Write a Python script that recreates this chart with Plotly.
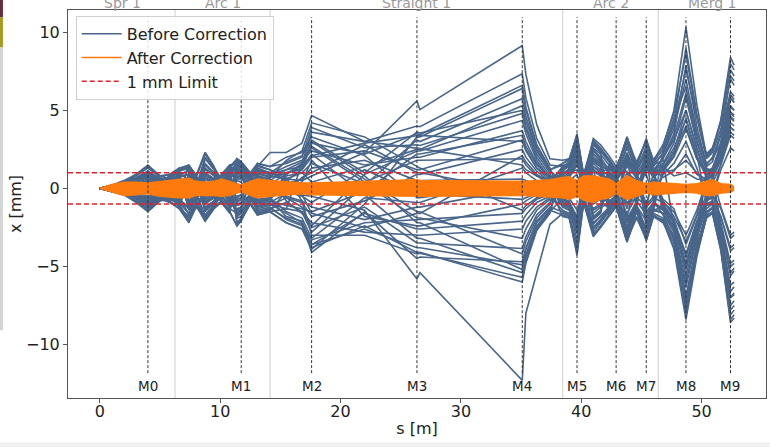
import plotly.graph_objects as go

# ---------------- data ----------------
# s positions [m] of the sampled points
S_ARC1 = [0.0, 1.0, 2.0, 3.0, 4.0, 5.0, 5.8, 6.6, 7.4, 8.0, 8.75, 9.5, 10.1, 10.8,
          11.4, 11.75, 12.5, 13.1, 14.15, 15.5, 16.8, 17.6]
S_STRAIGHT = [22.0, 26.35, 26.6, 35.1]
S_ARC2 = [35.4, 36.3, 37.4, 38.45, 39.0, 39.65, 40.2, 41.0, 41.6, 42.3, 42.9, 43.8,
          44.6, 45.4, 46.0, 46.8, 47.7, 48.7, 49.6, 50.4, 50.9, 51.6, 52.4, 52.7]

# x [mm] before correction, one row per trajectory, split by lattice section
BEFORE_ARC1 = [
    [0, 0.2, 0.5, 0.9, 1.5, 0.8, 0.6, 1.2, 1.3, 0.7, 2.2, 1.3, 0.4, 1.0, 1.7, 1.5, 0.6, 1.4, 2.3, 2.3, 2.9, 4.67],
    [0, -0.1, -0.3, -0.5, -0.9, -0.5, -0.4, -0.7, -1.3, -0.6, 1.2, 0.8, 0.3, -0.6, -1.1, -1.0, 0.3, 0.9, 0.8, 0.6, 0.5, 0.8],
    [0, 0.1, 0.2, 0.4, 0.7, 0.4, 0.3, 0.5, -0.9, -0.5, 0.9, 0.6, -0.3, -0.8, -1.4, -1.2, -0.4, 0.7, 0.4, -0.3, -0.4, -0.5],
    [0, 0.2, 0.4, 0.8, 1.3, 0.7, 0.9, 1.1, 1.4, 0.9, -1.5, -0.9, -0.6, 1.3, 1.8, 1.6, 0.9, -1.2, -1.0, -1.3, 1.6, 3.6],
    [0, -0.2, -0.4, -0.8, -1.4, -0.8, -0.7, -1.0, -2.1, -1.1, -0.5, 0.3, 0.7, 1.2, -1.9, -1.8, -0.8, 1.3, 1.0, 0.5, 1.2, 2.9],
    [0, 0.1, 0.3, 0.6, 1.0, 0.6, 0.5, -0.4, 1.5, 0.8, 2.3, 1.4, 0.6, -1.2, -0.6, -0.4, -1.0, -1.7, -1.5, -2.2, -2.6, -3.9],
    [0, -0.1, -0.2, -0.4, -0.7, -0.4, -0.9, -1.3, -1.8, -0.9, -2.1, -1.2, -0.9, -1.6, 1.9, 1.7, 1.0, -1.7, -1.3, -0.9, -1.5, -2.8],
    [0, 0.2, 0.4, 0.6, 0.9, 0.5, 0.3, 0.8, 1.2, 0.6, -1.2, -0.8, 0.3, 1.4, 1.2, 1.0, 0.5, 1.6, 1.4, 1.6, 2.0, 3.9],
    [0, -0.2, -0.3, -0.6, -1.1, -0.6, -0.5, 0.9, -0.8, -0.3, 1.6, 1.0, 0.2, 0.9, -2.2, -1.9, -0.9, 0.8, 0.6, -0.8, -1.6, -2.4],
    [0, 0.1, 0.2, 0.3, 0.5, 0.3, 0.8, 1.0, -1.4, -0.8, -1.9, -1.1, -0.5, 0.6, 1.1, 1.0, 0.7, 1.1, 0.9, 1.4, 1.8, 2.4],
    [0, -0.1, -0.3, -0.7, -1.2, -0.7, -0.6, -0.8, 0.7, 0.4, 0.9, 0.5, -0.4, -1.1, -0.9, -0.7, 0.6, 1.0, 0.7, 1.0, 1.2, 2.0],
    [0, 0.1, 0.3, 0.5, 0.8, 0.4, 0.2, -0.9, -1.6, -0.7, 0.6, 0.3, 0.8, 1.1, 0.5, 0.4, -0.6, -1.3, -1.1, -0.6, -0.9, -1.8],
    [0, -0.1, -0.2, -0.3, -0.5, -0.3, 0.4, 0.7, 0.9, 0.5, -0.9, -0.6, -0.4, -1.3, -1.6, -1.4, -0.7, 0.5, 0.3, 0.9, 1.5, 2.6],
    [0, 0.2, 0.4, 0.7, 1.1, 0.6, -0.3, -0.6, 0.5, 0.2, 1.3, 0.8, -0.2, -0.9, 0.8, 0.7, 0.4, -0.8, -0.6, -1.5, -1.9, -3.2],
    [0, -0.1, -0.2, -0.5, -0.8, -0.4, 0.3, 0.5, -0.5, -0.3, -1.7, -1.0, -0.3, 0.4, 0.3, 0.2, -0.3, -0.9, -0.7, 0.3, 0.6, 1.3],
    [0, 0.1, 0.2, 0.4, 0.6, 0.3, -0.5, -1.1, -1.9, -1.0, -0.5, -0.2, 0.5, 0.9, 1.5, 1.4, 0.8, 0.4, 0.2, -0.5, -0.8, -1.2],
    [0, -0.2, -0.3, -0.6, -1.0, -0.6, 0.6, 0.9, 1.1, 0.6, 0.7, 0.4, -0.6, -1.0, -0.7, -0.6, 0.4, 0.8, 0.6, -0.2, -0.5, -0.9],
    [0, 0.1, 0.2, 0.2, 0.4, 0.2, 0.6, -0.7, -1.2, -0.5, 1.9, 1.2, 0.4, -0.5, -1.8, -1.6, -0.6, 1.0, 0.7, 1.8, 2.4, 4.2],
    [0, -0.1, -0.3, -0.4, -0.6, -0.3, -0.7, 1.3, 1.4, 0.7, -1.3, -0.8, -0.7, 1.0, 1.3, 1.1, 0.5, -0.9, -0.7, -1.8, -2.1, -3.6],
    [0, 0.2, 0.3, 0.5, 0.9, 0.5, 0.6, 0.7, -0.8, -0.4, -2.0, -1.2, -0.8, -1.5, -2.4, -2.0, -1.0, -1.7, -1.5, -1.3, -1.5, -2.2],
    [0, -0.2, -0.4, -0.9, -1.5, -0.8, -0.4, -1.2, 1.0, 0.5, 0.3, 0.2, 0.9, 1.5, 1.6, 1.5, 0.8, 1.5, 1.2, 0.8, 1.0, 1.6],
    [0, 0.1, 0.2, 0.3, 0.3, 0.1, -0.5, 0.8, 0.9, 0.4, 0.8, 0.5, -0.5, 1.2, 1.4, 1.2, 0.6, 0.4, 0.3, -0.6, -1.2, -2.5],
    [0, -0.1, -0.2, -0.4, -0.7, -0.4, -0.6, -0.9, -1.6, -0.8, 1.0, 0.6, 0.6, -1.0, -1.3, -1.2, -0.5, -1.2, -1.0, -1.6, -2.2, -4.1],
    [0, 0.2, 0.3, 0.6, 1.0, 0.6, 0.7, 1.0, 0.5, 0.2, -1.3, -0.8, -0.2, 0.7, 0.9, 0.8, -0.6, -1.4, -1.2, -2.0, -2.4, -3.6],
    [0, -0.1, -0.2, -0.6, -1.0, -0.6, 0.5, 0.3, -1.0, -0.6, -1.0, -0.6, 0.5, 1.3, 1.0, 0.9, 0.5, 0.7, 0.5, 1.2, 1.7, 3.0],
    [0, 0.1, 0.2, 0.5, 0.7, 0.4, 0.8, 1.3, 1.5, 0.8, -0.6, -0.4, -0.8, -1.4, 0.6, 0.6, 0.3, -0.7, -0.6, 1.0, 1.3, 2.2],
    [0, -0.2, -0.4, -0.8, -1.3, -0.7, -0.9, -1.1, 0.3, 0.1, 2.0, 1.2, 0.4, -0.4, 1.5, 1.3, 0.7, 1.2, 1.0, 0.7, -0.8, -3.0],
    [0, 0.1, 0.3, 0.5, 0.8, 0.4, -0.8, -1.3, -2.2, -1.2, -1.8, -1.1, 0.7, 1.5, -2.3, -2.0, -1.0, -1.6, -1.5, -2.2, -2.6, -3.8],
    [0, -0.1, -0.3, -0.5, -0.9, -0.5, 0.9, 1.3, 1.2, 0.7, 2.3, 1.4, -0.5, 1.4, 1.9, 1.7, 1.0, 1.6, 1.4, 2.0, 2.3, 3.3],
    [0, 0.2, 0.4, 0.9, 1.4, 0.8, 0.9, -1.2, -2.1, -1.1, -2.1, -1.3, -0.9, -1.5, -2.4, -2.1, -0.9, -1.6, -1.4, -0.2, 0.7, 1.0],
    [0, 0.1, 0.3, 0.6, 1.1, 0.6, -0.6, -1.0, 0.8, 0.4, -1.4, -0.9, 0.5, 1.1, -1.0, -0.9, -0.4, 1.2, 1.0, 1.7, 2.1, 3.1],
    [0, -0.2, -0.4, -0.6, -1.0, -0.5, 0.7, -0.5, -1.7, -0.9, 0.6, 0.4, -0.7, -1.2, 1.0, 0.9, -0.5, -1.5, -1.3, -1.9, -2.3, -3.3],
    [0, 0.1, 0.2, 0.3, 0.5, 0.3, -0.3, 0.6, -0.6, -0.3, 1.5, 0.9, 0.5, -0.7, -1.5, -1.3, 0.5, 1.1, 0.9, 1.2, 1.4, 2.1],
    [0, -0.1, -0.2, -0.5, -0.8, -0.5, 0.5, 0.8, -1.3, -0.7, -0.9, -0.5, 0.4, 0.8, 1.2, 1.1, -0.5, -1.0, -0.8, -1.1, -1.3, -1.5],
    [0, 0.2, 0.3, 0.6, 0.9, 0.5, -0.4, -0.9, 1.0, 0.5, -0.7, -0.4, -0.6, 0.8, -1.7, -1.5, -0.8, -1.1, -0.9, -0.3, 0.4, 1.8],
    [0, -0.1, -0.3, -0.4, -0.6, -0.4, -0.6, 1.1, 1.3, 0.7, 0.4, 0.3, 0.8, -1.3, -0.5, -0.4, 0.9, 1.4, 1.2, 0.4, -0.4, -1.6],
    [0, 0.1, 0.2, 0.5, 0.8, 0.4, 0.4, -0.8, 0.7, 0.3, 1.0, 0.6, -0.4, 1.0, 0.7, 0.6, 0.7, -0.9, -0.7, 0.9, 1.6, 2.7],
    [0, -0.2, -0.3, -0.6, -1.1, -0.6, -0.8, 0.5, -1.1, -0.6, -0.8, -0.5, -0.7, 1.0, -0.8, -0.7, -0.6, -0.8, -0.7, 0.6, 1.0, 0.4],
]
BEFORE_STRAIGHT = [
    [3.0, 2.6, 2.55, 1.5], [2.3, 5.6, 5.05, 9.15], [-1.4, -5.8, -5.4, -12.3], [3.0, 4.0, 3.95, 7.34],
    [2.2, 3.5, 3.45, 6.6], [-1.0, 3.3, 3.3, 6.4], [0.2, 3.1, 3.0, 5.75], [2.6, 2.8, 2.75, 4.8],
    [0.9, 2.4, 2.4, 4.35], [1.5, 2.0, 2.0, 3.7], [2.4, 1.2, 1.2, 3.1], [-0.8, 0.9, 0.9, 2.5],
    [0.4, 1.8, 1.8, 1.9], [-0.6, -0.9, -0.9, 1.3], [1.8, 0.5, 0.5, 0.6], [-2.0, -1.2, -1.2, 0.0],
    [1.2, -0.3, -0.35, -0.7], [3.3, 1.4, 1.3, -1.4], [-1.6, -2.6, -2.6, -2.1], [-2.8, -3.0, -3.0, -2.6],
    [0.3, -1.9, -1.9, -3.2], [-1.2, -3.5, -3.5, -3.85], [-1.5, -4.5, -4.4, -4.7], [-2.6, -3.8, -3.8, -4.9],
    [0.8, -2.2, -2.2, -5.2], [-0.4, -3.2, -3.2, -5.4], [-3.0, -4.2, -4.15, -5.7], [-2.4, -4.1, -4.1, -6.0],
    [2.1, -0.6, -0.6, 0.3], [2.8, 1.0, 1.0, -0.2],
    [1.0, 3.6, 3.55, 5.0], [-2.2, -2.0, -2.0, -1.6], [2.9, 3.4, 3.4, 3.0], [-0.2, 2.2, 2.2, 3.4],
    [-1.8, -2.4, -2.4, -1.0], [-2.5, -1.6, -1.6, 2.1], [0.6, -1.5, -1.5, -4.2], [1.4, 2.5, 2.5, 5.3],
]
BEFORE_ARC2 = [
    [1.2, 0.8, 0.5, 0.9, 1.2, 2.4, 0.5, 2.2, 1.8, 1.1, 0.6, 2.1, 0.9, 2.0, 1.0, 2.0, 3.5, 7.9, 4.0, 1.5, 2.0, 3.5, 6.2, 5.9],
    [7.3, 4.1, 1.9, 1.8, 1.9, 3.4, 0.9, 3.1, 2.6, 1.9, 1.2, 3.2, 1.5, 3.1, 1.8, 2.7, 5.0, 10.33, 5.4, 2.1, 2.5, 4.4, 8.4, 7.9],
    [-8.0, -5.4, -2.3, -1.6, -1.8, -4.3, -0.9, -3.0, -2.4, -1.7, -1.1, -3.4, -1.8, -3.3, -1.7, -2.1, -3.9, -8.4, -4.4, -1.8, -1.6, -3.9, -8.6, -8.3],
    [5.8, 3.2, 1.5, 1.4, 1.6, 2.9, 0.7, 2.6, 2.2, 1.5, 0.9, 2.6, 1.2, 2.7, 1.4, 2.3, 4.1, 7.6, 4.6, 1.9, 2.3, 3.8, 7.0, 6.6],
    [5.2, 2.8, 1.3, -0.6, -1.0, -2.6, 0.4, 2.8, 2.3, -1.2, -0.6, -2.8, -1.0, 2.9, 1.5, 1.8, -2.5, -6.9, -3.6, 1.3, 1.1, -3.2, -7.5, -7.2],
    [5.0, 2.7, 1.2, 1.5, 1.3, 3.1, 0.6, -1.8, -1.4, 1.6, 1.0, 3.0, 1.3, -2.2, -1.2, 2.5, 4.5, 6.5, 3.4, 1.6, 1.9, 2.9, 5.8, 5.5],
    [4.6, 2.5, 1.1, 0.5, -0.8, -2.0, 0.6, 2.2, 1.7, -0.9, -0.7, -2.5, -1.2, 1.9, -0.8, -1.7, -3.2, -7.6, -3.9, -1.5, -1.2, -2.9, -6.6, -6.3],
    [3.8, 2.0, 0.8, 0.3, 0.7, 1.6, 0.3, 1.3, -0.8, -1.3, -0.8, 1.8, 0.6, -1.4, 1.1, 2.0, 3.1, 5.0, 2.6, 0.9, 1.3, 2.8, 5.3, 5.0],
    [3.5, 1.8, 0.6, -0.9, -1.2, -3.3, -0.5, -2.5, -2.0, -1.3, -0.4, -2.2, -1.1, -2.6, -1.5, -1.0, -2.0, -5.2, -2.6, -1.1, -0.9, -2.5, -5.4, -5.1],
    [3.0, 1.6, 0.7, 1.1, 1.5, 2.8, 0.4, 1.6, 1.2, 0.8, 0.5, 1.4, 0.7, 1.6, 0.8, 1.5, 2.6, 4.4, 2.1, 0.8, 1.0, 2.0, 4.2, 4.0],
    [2.5, 1.3, 0.5, -0.5, -0.9, -1.8, 0.8, -1.9, -1.6, 0.7, 0.6, 2.3, 0.8, -1.0, 0.6, -0.7, -1.3, -3.6, -1.8, -0.5, 0.4, 1.5, 3.4, 3.2],
    [2.0, 1.1, 0.4, 0.6, 0.9, 1.9, -0.6, 1.1, 0.8, -0.4, -0.3, -1.6, -0.5, 1.2, 1.0, 1.4, 0.8, 1.0, 0.6, 0.5, 0.8, -1.2, -3.0, -2.8],
    [1.5, 0.8, 0.3, -0.4, -0.6, -1.4, -0.3, -1.3, -1.0, -0.6, -0.4, -1.0, -0.6, -1.1, -0.5, 0.9, 1.6, 3.0, 1.3, -0.6, -0.5, 1.2, 2.6, 2.4],
    [1.0, 0.5, 0.2, 1.0, 1.2, 2.2, 0.5, -1.0, -0.7, 1.3, 0.8, 1.1, -0.8, -1.7, -0.9, -1.3, -2.1, -4.4, -2.2, -0.7, 0.6, 1.8, 3.9, 3.7],
    [0.5, 0.2, 0.1, -1.2, -1.4, -2.9, -0.7, 1.9, 1.5, -1.0, -0.7, 1.5, 1.1, 2.4, 1.3, 0.7, 1.1, 2.2, 0.9, 0.6, -0.8, -1.8, -3.8, -3.6],
    [0.0, -0.1, 0.2, 0.7, 1.0, 1.2, 0.6, 0.7, 0.5, 0.9, -0.6, -1.8, 0.5, 0.9, -0.6, -0.9, -1.5, -3.0, -1.4, 0.4, 0.6, -2.2, -4.8, -4.6],
    [-0.6, -0.3, -0.1, 0.4, 0.5, 0.9, -0.4, 1.4, 1.0, 0.5, 0.4, -0.9, -0.4, 1.3, 0.7, 1.2, 2.3, 4.0, 1.9, 1.1, 1.3, 2.5, 4.8, 4.6],
    [-1.1, -0.6, -0.3, 0.8, 1.3, 2.6, 0.7, -2.0, -1.6, 1.0, 0.6, 2.7, 1.0, -2.4, -1.3, -1.6, -2.8, -6.3, -3.2, -1.3, -1.0, -3.3, -7.0, -6.8],
    [-1.7, -0.9, -0.5, -1.4, -1.6, -3.8, -0.8, -2.8, -2.2, -1.5, -1.0, -3.0, -1.4, -3.0, -1.6, -1.9, -3.0, -7.0, -3.6, -1.6, -1.3, -3.5, -7.8, -7.5],
    [-2.1, -1.2, -0.6, 0.5, 0.7, 1.5, 0.9, 2.5, 2.0, 1.2, 1.0, -2.0, -1.0, 2.2, 1.1, 1.6, 2.9, 5.8, 2.9, 1.2, 1.0, 2.6, 5.8, 5.5],
    [-2.6, -1.4, -0.7, -1.0, -1.2, -2.4, 0.5, -1.6, -1.2, -1.0, -0.6, 1.0, 0.5, -1.5, -0.9, 1.0, 1.2, 1.8, 1.0, 0.5, -0.4, -1.3, -3.2, -3.0],
    [-3.1, -1.7, -0.9, 1.3, 1.5, 3.0, 0.3, 1.7, 1.4, -0.9, -0.5, -2.6, -0.9, 2.5, 1.2, -1.1, -2.2, -5.6, -2.8, -0.9, 0.8, 2.1, 4.5, 4.3],
    [-3.8, -2.1, -1.2, -1.5, -1.7, -3.9, -0.7, -2.3, -1.8, -1.2, -0.8, -3.1, -1.3, -2.8, -1.4, -1.6, -2.6, -6.0, -3.0, -1.1, -1.0, -2.9, -6.2, -6.0],
    [-3.9, -2.2, -1.3, 0.4, 0.8, 1.8, -0.4, 0.8, 0.6, 0.6, 0.5, 1.6, 0.9, 1.4, 0.8, 1.3, 2.4, 5.0, 2.5, 0.7, 0.9, 3.0, 6.0, 5.7],
    [-4.2, -2.4, -1.4, -1.7, -1.9, -3.5, -0.9, -2.6, -2.1, -1.4, -0.9, -2.4, -1.1, -2.1, -1.0, -1.3, -2.2, -4.8, -2.4, -0.8, -0.5, -1.8, -4.0, -3.8],
    [-4.4, -2.5, -1.5, 1.1, 1.6, 3.3, 0.8, 2.9, 2.4, 1.7, 1.1, 3.3, 1.4, 3.2, 1.6, 2.2, 3.8, 7.0, 3.6, 1.4, 1.7, 3.4, 7.2, 6.9],
    [-4.6, -2.6, -1.5, -0.6, -0.9, -2.1, -0.9, 1.4, 1.1, -1.6, -1.2, 1.9, -1.2, -3.3, -1.8, -2.2, -3.5, -8.0, -4.1, -1.9, -1.5, -3.8, -8.1, -7.8],
    [-4.8, -2.7, -1.6, 1.6, 1.9, 2.6, 0.9, -2.9, -2.5, -1.8, -1.2, -3.45, -1.5, -3.35, -1.8, -2.0, -3.3, -7.2, -3.8, -1.7, -1.5, -3.0, -7.0, -6.7],
    [0.3, 0.2, 0.2, -0.8, -1.0, -2.0, 0.5, 3.2, 2.8, 2.1, 1.4, 2.9, 1.7, 3.0, 1.8, 2.8, 4.8, 8.6, 4.6, 2.2, 2.6, 4.2, 7.6, 7.2],
    [-0.1, 0.0, 0.1, -1.8, -1.9, -4.1, -0.9, -3.1, -2.5, -1.7, -1.1, -3.2, -1.9, -3.2, -1.7, -2.1, -3.8, -7.8, -4.2, -1.9, -1.6, -4.0, -8.4, -8.1],
    [4.0, 2.2, 1.0, -1.1, -1.3, -2.8, 0.7, 2.0, 1.6, 1.0, 0.7, -1.9, -0.9, 2.0, 1.0, -1.4, -2.4, -4.8, -2.5, 0.9, 1.1, 2.3, 4.6, 4.4],
    [-1.3, -0.7, -0.4, 1.2, 1.4, 2.9, -0.6, 2.4, 1.9, -1.1, -0.8, 2.2, 1.1, 2.3, 1.2, 1.9, 3.3, 6.1, 3.1, 1.2, 0.9, -2.6, -5.6, -5.3],
    [2.4, 1.3, 0.7, 0.9, 1.1, 2.0, 0.4, -1.4, -1.1, 0.9, 0.6, 1.9, 0.8, -1.2, -0.7, 1.1, 2.0, 3.8, 1.9, 0.8, 1.2, 2.4, 4.9, 4.7],
    [2.7, 1.5, 0.7, -0.7, -0.9, -2.2, 0.6, 1.8, 1.4, -0.8, -0.5, -2.1, -0.8, 1.7, 0.9, -1.2, -2.0, -4.2, -2.1, -0.8, -0.6, 1.6, 3.6, 3.4],
    [-0.8, -0.4, -0.2, -0.9, -1.1, -2.3, 0.6, -1.9, -1.5, 1.1, 0.7, 2.0, 1.0, -1.9, -1.0, -1.4, -2.5, -5.0, -2.5, -1.0, 0.7, 2.7, 5.2, 5.0],
    [1.7, 0.9, 0.4, 1.4, 1.7, 3.2, -0.5, -2.2, -1.8, -1.4, -0.9, -2.8, -1.2, -2.6, -1.4, 1.2, 2.1, 4.5, 2.2, -1.0, -0.8, -2.4, -5.0, -4.8],
    [-3.4, -1.9, -1.0, 0.9, 1.1, 2.5, -0.6, 1.2, 0.9, 1.4, 0.9, -1.3, 0.7, 1.8, 0.9, -0.8, -1.8, -3.4, -1.7, 0.6, 0.9, 1.9, 3.9, 3.7],
    [4.3, 2.4, 1.2, 1.6, 1.8, 3.5, 0.8, 3.0, 2.5, 1.8, 1.2, 3.3, 1.6, 3.1, 1.7, 2.5, 4.2, 9.0, 4.8, 2.0, 2.4, 4.3, 8.0, 7.6],
]

# envelope of the trajectories after correction [mm]
AFTER_UPPER = [0, 0.25, 0.4, 0.4, 0.35, 0.45, 0.5, 0.6, 0.65, 0.45, 0.4, 0.45, 0.6, 0.45, 0.3, 0.2,
               0.45, 0.6, 0.5, 0.4, 0.35, 0.35,
               0.45, 0.55, 0.5, 0.45,
               0.45, 0.5, 0.55, 0.7, 0.75, 0.5, 0.8, 0.8, 0.7, 0.6, 0.3, 0.8, 0.5, 0.3, 0.4, 0.35,
               0.3, 0.25, 0.3, 0.45, 0.55, 0.3, 0.25, 0.1]
AFTER_LOWER = [0, -0.25, -0.45, -0.4, -0.35, -0.5, -0.55, -0.6, -0.6, -0.45, -0.45, -0.45, -0.5, -0.45,
               -0.3, -0.2, -0.45, -0.6, -0.5, -0.4, -0.35, -0.4,
               -0.45, -0.5, -0.5, -0.45,
               -0.45, -0.5, -0.55, -0.6, -0.7, -0.5, -0.75, -0.9, -0.7, -0.6, -0.3, -0.7, -0.5, -0.3,
               -0.4, -0.35, -0.3, -0.25, -0.3, -0.45, -0.45, -0.3, -0.25, -0.1]

LIMIT_MM = [1.0, -1.0]
MONITOR_NAMES = ["M0", "M1", "M2", "M3", "M4", "M5", "M6", "M7", "M8", "M9"]
MONITOR_S = [4.0, 11.75, 17.6, 26.35, 35.1, 39.65, 42.9, 45.4, 48.7, 52.4]
SECTION_NAMES = ["Spr 1", "Arc 1", "Straight 1", "Arc 2", "Merg 1"]
SECTION_LABEL_S = [1.9, 10.2, 26.3, 42.45, 50.9]
SECTION_EDGES_S = [6.25, 14.15, 38.45, 46.4]
X_TICKS = [0, 10, 20, 30, 40, 50]
Y_TICKS = [-10, -5, 0, 5, 10]
X_RANGE = [-2.64, 55.35]
Y_RANGE = [-13.43, 11.43]

# ---------------- figure ----------------
BLUE = "#48658a"
ORANGE = "#ff7a0c"
RED = "#e3202b"
FONT = "DejaVu Sans"

s_all = S_ARC1 + S_STRAIGHT + S_ARC2
bx, by = [], []
for a, b, c in zip(BEFORE_ARC1, BEFORE_STRAIGHT, BEFORE_ARC2):
    bx += s_all + [None]
    by += a + b + c + [None]

fig = go.Figure()
fig.add_trace(go.Scatter(x=bx, y=by, mode="lines", name="Before Correction",
                         line=dict(color=BLUE, width=1.6), hoverinfo="skip"))
fig.add_trace(go.Scatter(x=s_all, y=AFTER_UPPER, mode="lines", name="After Correction",
                         legendgroup="after", line=dict(color=ORANGE, width=1.5), hoverinfo="skip"))
fig.add_trace(go.Scatter(x=s_all, y=AFTER_LOWER, mode="lines", name="After Correction",
                         legendgroup="after", showlegend=False, fill="tonexty", fillcolor=ORANGE,
                         line=dict(color=ORANGE, width=1.5), hoverinfo="skip"))
for i, lim in enumerate(LIMIT_MM):
    fig.add_trace(go.Scatter(x=X_RANGE, y=[lim, lim], mode="lines", name="1 mm Limit",
                             legendgroup="limit", showlegend=(i == 0),
                             line=dict(color=RED, width=1.5, dash="5px,3px"), hoverinfo="skip"))

shapes = []
for e in SECTION_EDGES_S:
    shapes.append(dict(type="line", xref="x", yref="paper", x0=e, x1=e, y0=0, y1=1,
                       line=dict(color="#d8d8d8", width=1.3), layer="below"))
for m in MONITOR_S:
    shapes.append(dict(type="line", xref="x", yref="paper", x0=m, x1=m, y0=0.064, y1=0.981,
                       line=dict(color="#333333", width=1, dash="3px,2px"), layer="above"))
# screenshot edge artefacts (bottom strip, left strip)
shapes.append(dict(type="rect", xref="paper", yref="paper", x0=-0.1, x1=1.02, y0=-0.128, y1=-0.115,
                   fillcolor="#f0f0f0", line=dict(width=0), layer="below"))
shapes.append(dict(type="rect", xref="paper", yref="paper", x0=-0.0975, x1=-0.0932, y0=0.9807, y1=1.03,
                   fillcolor="#6b2a3a", line=dict(width=0), layer="below"))
shapes.append(dict(type="rect", xref="paper", yref="paper", x0=-0.0975, x1=-0.0932, y0=0.9034, y1=0.9807,
                   fillcolor="#a89a20", line=dict(width=0), layer="below"))
shapes.append(dict(type="rect", xref="paper", yref="paper", x0=-0.0975, x1=-0.0932, y0=0.1744, y1=0.9034,
                   fillcolor="#d4d4d4", line=dict(width=0), layer="below"))

annotations = []
for name, m in zip(MONITOR_NAMES, MONITOR_S):
    annotations.append(dict(x=m, y=0.030, xref="x", yref="paper", text=name, showarrow=False,
                            font=dict(family=FONT, size=13.5, color="#222222"),
                            xanchor="center", yanchor="middle"))
for name, sx in zip(SECTION_NAMES, SECTION_LABEL_S):
    annotations.append(dict(x=sx, y=1, xref="x", yref="paper", text=name, showarrow=False,
                            font=dict(family=FONT, size=14, color="#999999"),
                            xanchor="center", yanchor="bottom", yshift=-3))

fig.update_layout(
    width=770, height=447,
    margin=dict(l=68, r=4, t=10, b=49),
    paper_bgcolor="white", plot_bgcolor="white",
    font=dict(family=FONT, size=16, color="#222222"),
    showlegend=True,
    legend=dict(x=0.011, y=0.985, xanchor="left", yanchor="top",
                bgcolor="rgba(255,255,255,0.85)", bordercolor="#d0d0d0", borderwidth=1,
                font=dict(family=FONT, size=16, color="#222222"), tracegroupgap=0,
                itemwidth=40),
    shapes=shapes, annotations=annotations,
)
fig.update_xaxes(range=X_RANGE, tickvals=X_TICKS, ticktext=[str(v) for v in X_TICKS],
                 showgrid=False, zeroline=False, showline=True, mirror=True, linecolor="#555555",
                 linewidth=1, ticks="outside", ticklen=4, tickcolor="#555555", automargin=False,
                 ticklabelstandoff=-5,
                 tickfont=dict(size=16), title=dict(text="s [m]", font=dict(size=16), standoff=2))
fig.update_yaxes(range=Y_RANGE, tickvals=Y_TICKS,
                 ticktext=[str(v).replace("-", "\u2212") for v in Y_TICKS],
                 showgrid=False, zeroline=False, showline=True, mirror=True, linecolor="#555555",
                 linewidth=1, ticks="outside", ticklen=4, tickcolor="#555555", automargin=False,
                 tickfont=dict(size=16), title=dict(text="x [mm]", font=dict(size=16), standoff=0))

fig.write_html("out.html", post_script="document.body.style.margin='0';",
               config={"displayModeBar": False})
